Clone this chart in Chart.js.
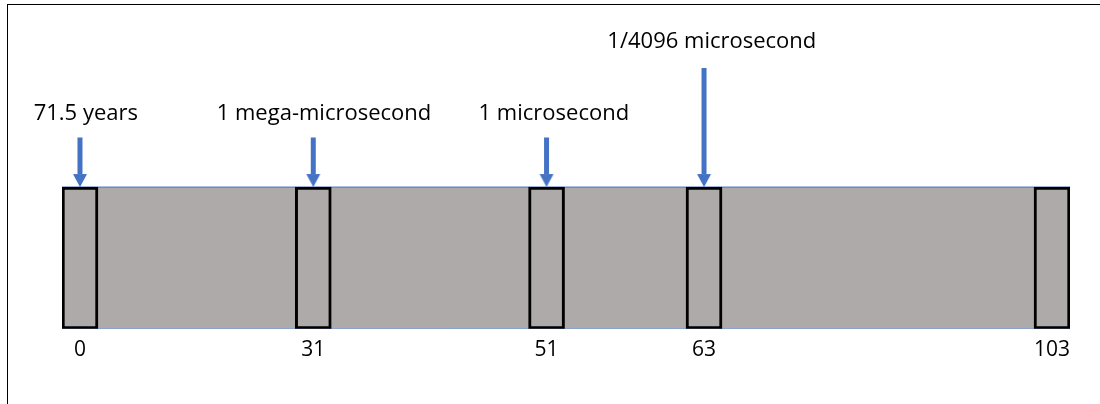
<!DOCTYPE html>
<html>
<head>
<meta charset="utf-8">
<script src="https://cdn.jsdelivr.net/npm/chart.js@4/dist/chart.umd.min.js"></script>
<style>
  html, body { margin: 0; padding: 0; background: #fff; }
  #wrap { position: relative; width: 1100px; height: 404px; overflow: hidden; }
  #frame { position: absolute; left: 7px; top: 4px; right: -5px; bottom: -5px;
           border-left: 1px solid #000; border-top: 1px solid #000; }
  canvas { position: absolute; left: 0; top: 0; }
</style>
</head>
<body>
<div id="wrap">
  <div id="frame"></div>
  <canvas id="tod" width="1100" height="404"></canvas>
</div>
<script>
// Bit positions along the diagram (diagram units, not to bit scale)
const bitLabels  = ['0', '31', '51', '63', '103'];
const boxPos     = [0, 24, 48, 64.2, 100];

// Field band spans y 0..10
const bandBottom = 0;
const bandTop    = 10;

// Arrows: which boxes, where each shaft starts, where the head begins
const arrowPos   = [0, 24, 48, 64.2];
const arrowTop   = [13.5, 13.5, 13.5, 18.4];
const headBase   = 10.92;

// Labels above the arrows
const labelText  = ['71.5 years', '1 mega-microsecond', '1 microsecond', '1/4096 microsecond'];
const labelX     = [0.6, 25.1, 48.75, 65.0];
const labelY     = [14.75, 14.75, 14.75, 19.8];

const C = {
  band:   '#aeaaaa',
  edge:   '#4472c4',
  arrow:  '#4472c4',
  box:    '#000000',
  text:   '#000000',
};
const FONT = "'Open Sans', sans-serif";

// arrow head as a canvas point style: base at canvas centre, apex at bottom
function makeHead() {
  const c = document.createElement('canvas');
  c.width = 16; c.height = 26;
  const g = c.getContext('2d');
  g.fillStyle = C.arrow;
  g.beginPath();
  g.moveTo(1, 13);
  g.lineTo(15, 13);
  g.lineTo(8, 26);
  g.closePath();
  g.fill();
  return c;
}
const head = makeHead();

const xMin = boxPos[0] - 1.85;
const xMax = boxPos[boxPos.length - 1] + 1.85;

const datasets = [];

// ── Grey band with thin blue top/bottom edges ──────────────────────
datasets.push({
  type: 'scatter',
  showLine: true,
  data: [{ x: xMin, y: bandTop }, { x: xMax, y: bandTop }],
  borderColor: C.edge,
  borderWidth: 1,
  backgroundColor: C.band,
  fill: { value: bandBottom },
  pointRadius: 0,
  order: 5,
});
datasets.push({
  type: 'scatter',
  showLine: true,
  data: [{ x: xMin, y: bandBottom }, { x: xMax, y: bandBottom }],
  borderColor: C.edge,
  borderWidth: 1,
  pointRadius: 0,
  order: 4,
});

// ── Bit boxes ──────────────────────────────────────────────────────
datasets.push({
  type: 'bar',
  data: boxPos.map(p => ({ x: p, y: [bandBottom, bandTop] })),
  backgroundColor: C.band,
  borderColor: C.box,
  borderWidth: 3,
  borderSkipped: false,
  barThickness: 36,
  order: 3,
});

// ── Arrow shafts and heads ─────────────────────────────────────────
arrowPos.forEach((p, i) => {
  datasets.push({
    type: 'scatter',
    showLine: true,
    data: [{ x: p, y: arrowTop[i] }, { x: p, y: headBase }],
    borderColor: C.arrow,
    borderWidth: 5,
    borderCapStyle: 'butt',
    pointRadius: 0,
    order: 2,
  });
});
datasets.push({
  type: 'scatter',
  data: arrowPos.map(p => ({ x: p, y: headBase })),
  pointStyle: head,
  pointRadius: 8,
  order: 1,
});

// ── Label text plugin ──────────────────────────────────────────────
const labelPlugin = {
  id: 'labels',
  afterDatasetsDraw(chart) {
    const { ctx, scales: { x, y } } = chart;
    ctx.save();
    ctx.fillStyle = C.text;
    ctx.font = `22px ${FONT}`;
    ctx.textAlign = 'center';
    ctx.textBaseline = 'alphabetic';
    labelText.forEach((t, i) => {
      ctx.fillText(t, x.getPixelForValue(labelX[i]), y.getPixelForValue(labelY[i]));
    });
    ctx.restore();
  },
};

new Chart(document.getElementById('tod'), {
  type: 'scatter',
  data: { datasets },
  plugins: [labelPlugin],
  options: {
    responsive: false,
    animation: false,
    events: [],
    layout: { padding: { left: 62, right: 30, top: 17, bottom: 32 } },
    plugins: { legend: { display: false }, tooltip: { enabled: false } },
    scales: {
      x: {
        type: 'linear',
        offset: false,
        min: xMin,
        max: xMax,
        grid: { display: false, drawTicks: false, offset: false },
        border: { display: false },
        afterBuildTicks(scale) {
          scale.ticks = boxPos.map(v => ({ value: v }));
        },
        ticks: {
          autoSkip: false,
          maxRotation: 0,
          padding: 9,
          color: C.text,
          font: { family: FONT, size: 21 },
          callback: (v, i) => bitLabels[i],
        },
      },
      y: {
        display: false,
        min: 0,
        max: 22,
      },
    },
  },
});
</script>
</body>
</html>
